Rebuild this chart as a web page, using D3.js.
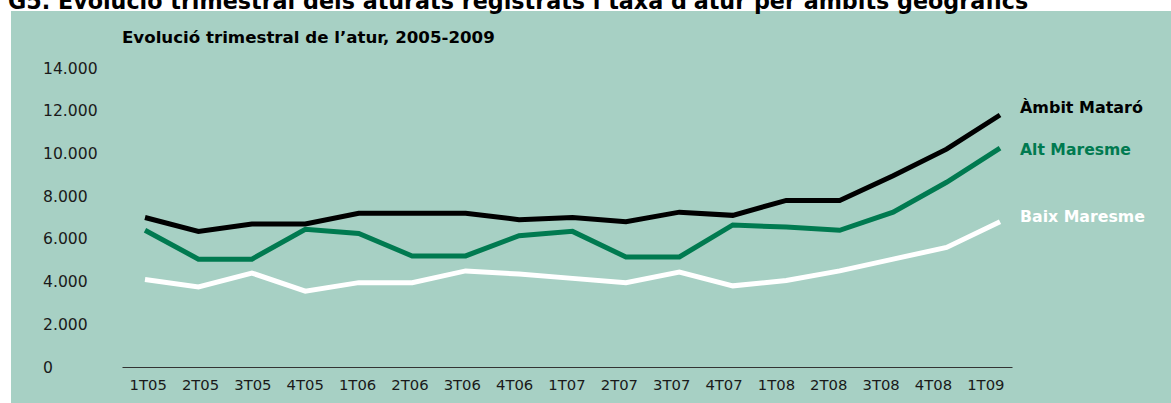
<!DOCTYPE html>
<html>
<head>
<meta charset="utf-8">
<script src="https://cdn.jsdelivr.net/npm/d3@7"></script>
<style>
  html, body { margin: 0; padding: 0; background: #ffffff; }
  svg { display: block; }
</style>
</head>
<body>
<svg id="chart" width="1171" height="403"></svg>
<script>
const title = "G5. Evolució trimestral dels aturats registrats i taxa d'atur per àmbits geogràfics";
const subtitle = "Evolució trimestral de l’atur, 2005-2009";
const categories = ["1T05","2T05","3T05","4T05","1T06","2T06","3T06","4T06","1T07","2T07","3T07","4T07","1T08","2T08","3T08","4T08","1T09"];
const yTicks = [0, 2000, 4000, 6000, 8000, 10000, 12000, 14000];
const ambitMataro = [7000, 6350, 6700, 6700, 7200, 7200, 7200, 6900, 7000, 6800, 7250, 7100, 7800, 7800, 8950, 10200, 11800];
const altMaresme  = [6400, 5050, 5050, 6450, 6250, 5200, 5200, 6150, 6350, 5150, 5150, 6650, 6550, 6400, 7250, 8650, 10250];
const baixMaresme = [4100, 3750, 4400, 3550, 3950, 3950, 4500, 4350, 4150, 3950, 4450, 3800, 4050, 4500, 5050, 5600, 6800];
const seriesNames = ["Àmbit Mataró", "Alt Maresme", "Baix Maresme"];
const seriesColors = ["#000000", "#007a50", "#ffffff"];

const series = [ambitMataro, altMaresme, baixMaresme];
const svg = d3.select("#chart");
const bg = "#a7d0c4";
const FONT = "DejaVu Sans, Verdana, sans-serif";

function fitText(sel, base, target) {
  const w = sel.node().getComputedTextLength();
  sel.attr("font-size", base * target / w);
}

svg.append("rect").attr("x", 11).attr("y", 11).attr("width", 1160).attr("height", 392).attr("fill", bg);

// Title (cut by top edge, as in the reference)
const t = svg.append("text").attr("x", 8).attr("y", 9)
  .attr("font-family", FONT).attr("font-weight", "bold")
  .attr("font-size", 18).attr("fill", "#000").text(title);
fitText(t, 18, 1021);

const st = svg.append("text").attr("x", 122).attr("y", 43)
  .attr("font-family", FONT).attr("font-weight", "bold")
  .attr("font-size", 13).attr("fill", "#000").text(subtitle);
fitText(st, 13, 373);

const y = d3.scaleLinear().domain([0, 14000]).range([367, 68]);
const xBand = d3.scaleBand().domain(categories).range([122, 1012]);
const xLine = d3.scalePoint().domain(categories).range([145, 1000]);

// Y axis labels (left aligned)
const fmt = v => d3.format(",")(v).replace(/,/g, ".");
const yAxis = d3.axisLeft(y).tickValues(yTicks).tickFormat(fmt).tickSize(0);
const gy = svg.append("g").attr("transform", "translate(43,0)").call(yAxis);
gy.select(".domain").remove();
gy.selectAll("text").attr("x", 0).attr("text-anchor", "start")
  .attr("font-family", FONT).attr("font-size", 15.6).attr("fill", "#1a1a1a");

// X axis
const xAxis = d3.axisBottom(xBand).tickSize(0).tickPadding(12);
const gx = svg.append("g").attr("transform", "translate(0,367)").call(xAxis);
gx.select(".domain").attr("stroke", "#333").attr("stroke-width", 1.2);
gx.selectAll("text").attr("font-family", FONT)
  .attr("font-size", 14.8).attr("fill", "#1a1a1a");

// Lines
const line = d3.line().x((d, i) => xLine(categories[i])).y(d => y(d));
[2, 1, 0].forEach(k => {
  svg.append("path").datum(series[k]).attr("d", line)
    .attr("fill", "none").attr("stroke", seriesColors[k]).attr("stroke-width", 5)
    .attr("stroke-linejoin", "miter").attr("stroke-linecap", "butt");
});

// Series labels
const labelY = [113, 155, 222];
const labelW = [123, 111, 125];
seriesNames.forEach((n, k) => {
  const lt = svg.append("text").attr("x", 1020).attr("y", labelY[k])
    .attr("font-family", FONT).attr("font-weight", "bold")
    .attr("font-size", 13).attr("fill", seriesColors[k]).text(n);
  fitText(lt, 13, labelW[k]);
});
</script>
</body>
</html>
